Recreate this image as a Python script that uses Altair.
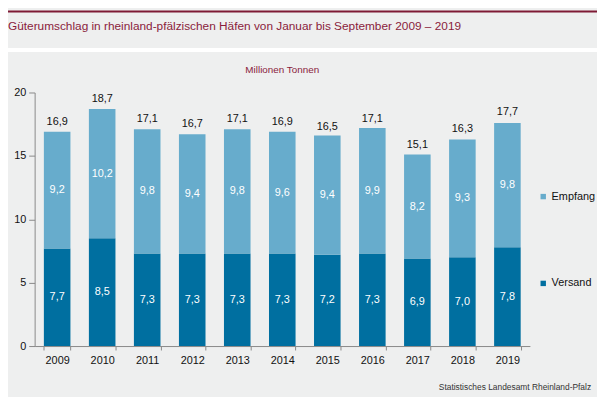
import altair as alt
import pandas as pd

years = ["2009", "2010", "2011", "2012", "2013", "2014", "2015", "2016", "2017", "2018", "2019"]
versand = [7.7, 8.5, 7.3, 7.3, 7.3, 7.3, 7.2, 7.3, 6.9, 7.0, 7.8]
empfang = [9.2, 10.2, 9.8, 9.4, 9.8, 9.6, 9.4, 9.9, 8.2, 9.3, 9.8]
totals = [16.9, 18.7, 17.1, 16.7, 17.1, 16.9, 16.5, 17.1, 15.1, 16.3, 17.7]

title_text = "Güterumschlag in rheinland-pfälzischen Häfen von Januar bis September 2009 – 2019"
unit_text = "Millionen Tonnen"
source_text = "Statistisches Landesamt Rheinland-Pfalz"

DARK = "#006FA0"
LIGHT = "#67ACCC"
RED = "#8A1C3C"
BG = "#EEEFEF"
FONT = "Liberation Sans"

df = pd.DataFrame({"year": years, "Versand": versand, "Empfang": empfang, "Total": totals})

W, H = 502, 257

x_enc = alt.X("year:N", sort=years,
              scale=alt.Scale(paddingInner=0.41, paddingOuter=0.205),
              axis=alt.Axis(title=None, labelAngle=0, tickBand="extent", tickSize=4,
                            labelFontSize=11, labelColor="#111", labelPadding=5,
                            domainColor="#888", tickColor="#888", labelFont=FONT))
y_scale = alt.Scale(domain=[0, 20], nice=False)

base = alt.Chart(df)

bars = base.transform_fold(["Versand", "Empfang"], as_=["key", "value"]).transform_calculate(
    ord="datum.key == 'Versand' ? 0 : 1"
).mark_bar().encode(
    x=x_enc,
    y=alt.Y("value:Q", stack="zero", scale=y_scale,
            axis=alt.Axis(title=None, values=[0, 5, 10, 15, 20], tickSize=6, grid=False,
                          labelFontSize=11, labelColor="#111", labelPadding=3,
                          domainColor="#888", tickColor="#888", labelFont=FONT)),
    color=alt.Color("key:N",
                    scale=alt.Scale(domain=["Empfang", "Versand"], range=[LIGHT, DARK]),
                    legend=alt.Legend(title=None, orient="none", legendX=510, legendY=100,
                                      symbolType="square", symbolSize=30, symbolStrokeWidth=0,
                                      labelFontSize=11, labelFont=FONT, labelColor="#111",
                                      rowPadding=76, labelOffset=3)),
    order=alt.Order("ord:Q"),
)

seg_labels = base.transform_fold(["Versand", "Empfang"], as_=["key", "value"]).transform_calculate(
    mid="datum.key == 'Versand' ? datum.Versand / 2 : datum.Versand + datum.Empfang / 2",
    lbl="replace(format(datum.value, '.1f'), '.', ',')",
).mark_text(color="white", fontSize=11, font=FONT, baseline="middle").encode(
    x=alt.X("year:N", sort=years),
    y=alt.Y("mid:Q", scale=y_scale),
    text="lbl:N",
)

tot_labels = base.transform_calculate(
    lbl="replace(format(datum.Total, '.1f'), '.', ',')"
).mark_text(color="#111", fontSize=11, font=FONT, baseline="middle", dy=-10).encode(
    x=alt.X("year:N", sort=years),
    y=alt.Y("Total:Q", scale=y_scale),
    text="lbl:N",
)

ann = alt.Chart(pd.DataFrame({"t": [title_text], "u": [unit_text], "s": [source_text]}))

white_strip = ann.mark_rect(color="white").encode(
    x=alt.value(-27), x2=alt.value(570), y=alt.value(-45), y2=alt.value(-41))
red_line = ann.mark_rect(color="#7E1A35").encode(
    x=alt.value(-27), x2=alt.value(570), y=alt.value(-83), y2=alt.value(-81))
title = ann.mark_text(align="left", baseline="middle", fontSize=12, font=FONT, color=RED).encode(
    x=alt.value(-27), y=alt.value(-67), text="t:N")
unit = ann.mark_text(align="center", baseline="middle", fontSize=10, font=FONT, color=RED).encode(
    x=alt.value(251), y=alt.value(-23), text="u:N")
source = ann.mark_text(align="right", baseline="middle", fontSize=8.5, font=FONT, color="#333").encode(
    x=alt.value(564), y=alt.value(299), text="s:N")

chart = alt.layer(white_strip, red_line, bars, seg_labels, tot_labels, title, unit, source).properties(
    width=W, height=H,
    autosize=alt.AutoSizeParams(type="none"),
    padding={"left": 27, "top": 83, "right": 68, "bottom": 49},
    background=BG,
).configure_view(stroke=None)

chart.save("out.html", embed_options={"renderer": "svg", "actions": False})
